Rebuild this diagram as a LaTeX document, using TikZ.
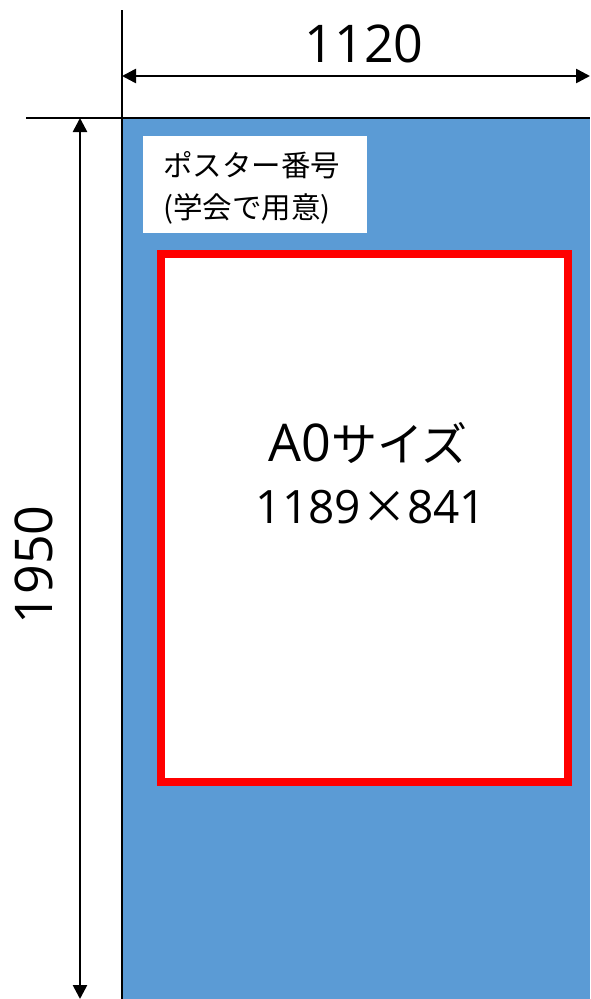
\documentclass[tikz,border=0pt]{standalone}
\usepackage{fontspec}
\setmainfont{Open Sans}
\newfontfamily\jp{Noto Sans CJK JP}
\usetikzlibrary{arrows.meta}
\definecolor{posterblue}{HTML}{5B9BD5}
\begin{document}
\begin{tikzpicture}[x=1pt,y=-1pt,
  dimline/.style={line width=2.8pt},
  dimarrow/.style={line width=2.6pt,{Triangle[length=14pt,width=14pt]}-{Triangle[length=14pt,width=14pt]}},
  bignum/.style={font=\fontsize{52}{60}\selectfont, inner sep=0pt}]
\useasboundingbox (0,0) rectangle (590,999);
% poster area
\fill[posterblue] (122,118) rectangle (590,999);
% reference lines
\coordinate (vtop) at (122,10);
\coordinate (vbot) at (122,999);
\coordinate (hleft) at (26,118);
\coordinate (hright) at (590,118);
\draw[dimline] (vtop) -- (vbot);
\draw[dimline] (hleft) -- (hright);
% dimension arrows
\coordinate (wl) at (122,76);
\coordinate (wr) at (590,76);
\draw[dimarrow] (wl) -- (wr);
\coordinate (ht) at (80,118);
\coordinate (hb) at (80,999);
\draw[dimarrow] (ht) -- (hb);
\node (wlabel) [bignum] at (364,44) {1120};
\node (hlabel) [bignum, rotate=90] at (34,565) {1950};
% poster number box
\node (numbox) [fill=white, anchor=north west, minimum width=224pt, minimum height=97pt, inner sep=0pt] at (143,136) {};
\node (numtext) [anchor=west, inner sep=0pt, align=left,
  font=\jp\fontsize{29.5}{42}\selectfont] at (163,188) {ポスター番号\\(学会で用意)};
% A0 area
\node (a0) [draw=red, line width=8pt, fill=white, minimum width=407pt, minimum height=528pt, inner sep=0pt] at (364.5,517.5) {};
\node (a0title) [inner sep=0pt, font=\fontsize{52}{60}\selectfont] at (368,443) {A0{\jp\fontsize{46}{60}\selectfont サイズ}};
\node (a0size) [inner sep=0pt, font=\fontsize{46}{60}\selectfont] at (371,507) {1189{\jp ×}841};
\end{tikzpicture}
\end{document}
